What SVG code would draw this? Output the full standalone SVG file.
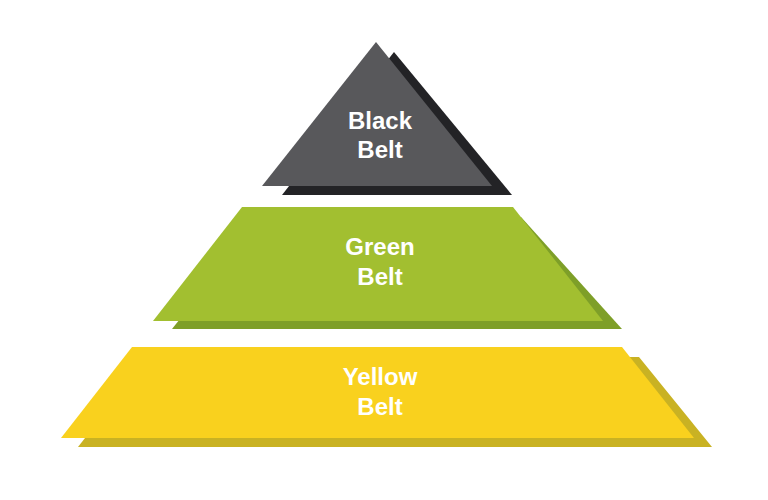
<svg xmlns="http://www.w3.org/2000/svg" width="768" height="500" viewBox="0 0 768 500">
<style>
.lbl{font-family:"Liberation Sans",Arial,sans-serif;font-weight:bold;font-size:24px;fill:#ffffff;text-anchor:middle}
</style>
<rect width="768" height="500" fill="#ffffff"/>
<g id="yellow-belt">
<polygon points="148,357 639,357 712,447 78,447" fill="#c9b223"/>
<polygon points="132,347 622,347 694,438 61,438" fill="#f9d11e"/>
<text class="lbl" x="380" y="385">Yellow</text>
<text class="lbl" x="380" y="415">Belt</text>
</g>
<g id="green-belt">
<polygon points="261,217 521,217 622,329 172,329" fill="#7e9f28"/>
<polygon points="242,207 513,207 603,321 153,321" fill="#a2bf30"/>
<text class="lbl" x="380" y="255">Green</text>
<text class="lbl" x="380" y="285">Belt</text>
</g>
<g id="black-belt">
<polygon points="394,52 512,195 282,195" fill="#232326"/>
<polygon points="376,42 492,186 262,186" fill="#58585b"/>
<text class="lbl" x="380" y="129">Black</text>
<text class="lbl" x="380" y="158">Belt</text>
</g>
<g id="connectors"></g>
</svg>
